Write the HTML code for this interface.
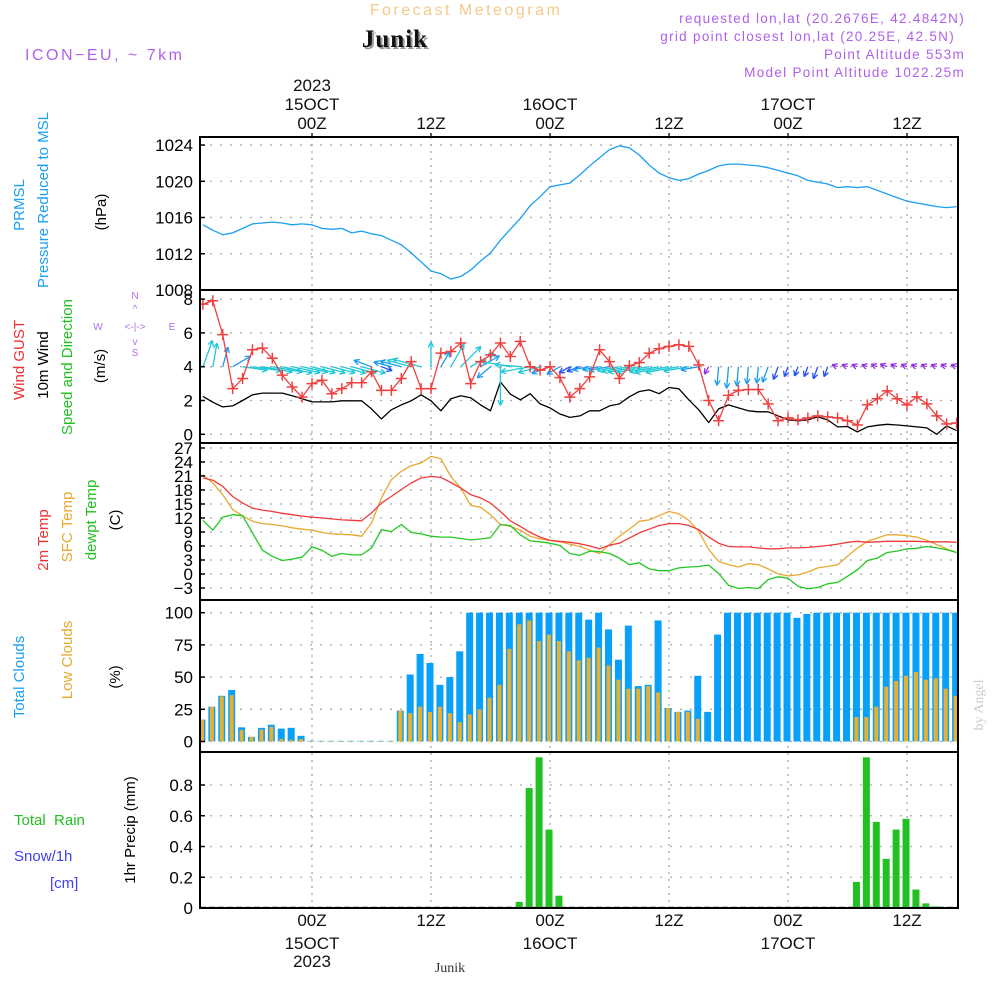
<!DOCTYPE html>
<html><head><meta charset="utf-8"><title>Meteogram Junik</title>
<style>
html,body{margin:0;padding:0;background:#fff;}
svg{display:block;font-family:"Liberation Sans",sans-serif;}
</style></head>
<body>
<svg id="chart" width="1000" height="1000" viewBox="0 0 1000 1000" xmlns="http://www.w3.org/2000/svg">
<rect x="0" y="0" width="1000" height="1000" fill="#fff"/>
<g id="grid"></g>
<g id="marks"></g>
<g id="frame"></g>
<g id="labels">
  <text x="466" y="15" font-size="16" fill="#f5c98a" text-anchor="middle" letter-spacing="2.5">Forecast Meteogram</text>
  <text x="397" y="49" font-size="25" font-weight="bold" font-family="Liberation Serif, serif" fill="#999" text-anchor="middle" letter-spacing="1">Junik</text>
  <text x="395" y="47" font-size="25" font-weight="bold" font-family="Liberation Serif, serif" fill="#111" text-anchor="middle" letter-spacing="1">Junik</text>
  <text x="25" y="60" font-size="16" fill="#b060e8" letter-spacing="2.5">ICON−EU, ~ 7km</text>
  <text x="965" y="23" font-size="13.5" fill="#b060e8" text-anchor="end" letter-spacing="1.3">requested lon,lat (20.2676E, 42.4842N)</text>
  <text x="955" y="41" font-size="13.5" fill="#b060e8" text-anchor="end" letter-spacing="1.3">grid point closest lon,lat (20.25E, 42.5N)</text>
  <text x="965" y="59" font-size="13.5" fill="#b060e8" text-anchor="end" letter-spacing="1.3">Point Altitude 553m</text>
  <text x="965" y="77" font-size="13.5" fill="#b060e8" text-anchor="end" letter-spacing="1.3">Model Point Altitude 1022.25m</text>
  <text x="450" y="972" font-size="14" font-family="Liberation Serif, serif" fill="#333" text-anchor="middle">Junik</text>
  <text transform="translate(983,705) rotate(-90)" font-size="14" font-family="Liberation Serif, serif" fill="#ccc" text-anchor="middle">by Angel</text>

  <text transform="translate(24,205) rotate(-90)" font-size="15" fill="#1aa0f0" text-anchor="middle">PRMSL</text>
  <text transform="translate(48,200) rotate(-90)" font-size="15" fill="#1aa0f0" text-anchor="middle">Pressure Reduced to MSL</text>
  <text transform="translate(106,212) rotate(-90)" font-size="15" fill="#000" text-anchor="middle">(hPa)</text>

  <text transform="translate(24,360) rotate(-90)" font-size="15" fill="#f03030" text-anchor="middle">Wind GUST</text>
  <text transform="translate(48,365) rotate(-90)" font-size="15" fill="#000" text-anchor="middle">10m Wind</text>
  <text transform="translate(72,367) rotate(-90)" font-size="15" fill="#20c020" text-anchor="middle">Speed and Direction</text>
  <text transform="translate(105,366) rotate(-90)" font-size="15" fill="#000" text-anchor="middle">(m/s)</text>
  <g fill="#b070f0" font-size="10">
    <text x="98" y="330" text-anchor="middle">W</text>
    <text x="135" y="330" text-anchor="middle">&lt;-|-&gt;</text>
    <text x="172" y="330" text-anchor="middle">E</text>
    <text x="135" y="299" text-anchor="middle">N</text>
    <text x="135" y="312" text-anchor="middle">^</text>
    <text x="135" y="345" text-anchor="middle">v</text>
    <text x="135" y="356" text-anchor="middle">S</text>
  </g>

  <text transform="translate(48,540) rotate(-90)" font-size="15" fill="#f03030" text-anchor="middle">2m Temp</text>
  <text transform="translate(72,527) rotate(-90)" font-size="15" fill="#e8a830" text-anchor="middle">SFC Temp</text>
  <text transform="translate(96,520) rotate(-90)" font-size="15" fill="#20c020" text-anchor="middle">dewpt Temp</text>
  <text transform="translate(120,520) rotate(-90)" font-size="15" fill="#000" text-anchor="middle">(C)</text>

  <text transform="translate(24,677) rotate(-90)" font-size="15" fill="#1aa0f0" text-anchor="middle">Total Clouds</text>
  <text transform="translate(72,660) rotate(-90)" font-size="15" fill="#e8a830" text-anchor="middle">Low Clouds</text>
  <text transform="translate(120,677) rotate(-90)" font-size="15" fill="#000" text-anchor="middle">(%)</text>

  <text x="14" y="825" font-size="15" fill="#20c020" xml:space="preserve">Total  Rain</text>
  <text x="14" y="861" font-size="15" fill="#4040f0">Snow/1h</text>
  <text x="50" y="888" font-size="15" fill="#4040f0">[cm]</text>
  <text transform="translate(135,830) rotate(-90)" font-size="15" fill="#000" text-anchor="middle">1hr Precip (mm)</text>
</g>
<g id="axes"></g>
</svg>
<script>
const hours = [-11,-10,-9,-8,-7,-6,-5,-4,-3,-2,-1,0,1,2,3,4,5,6,7,8,9,10,11,12,13,14,15,16,17,18,19,20,21,22,23,24,25,26,27,28,29,30,31,32,33,34,35,36,37,38,39,40,41,42,43,44,45,46,47,48,49,50,51,52,53,54,55,56,57,58,59,60,61,62,63,64,65];
const pressure = [1015.2,1014.6,1014.1,1014.3,1014.8,1015.3,1015.4,1015.5,1015.4,1015.2,1015.3,1015.2,1014.8,1014.7,1014.8,1014.3,1014.5,1014.2,1014.0,1013.5,1013.0,1012.1,1011.1,1010.1,1009.8,1009.2,1009.5,1010.2,1011.2,1012.1,1013.5,1014.7,1015.9,1017.3,1018.3,1019.4,1019.6,1019.8,1020.7,1021.7,1022.6,1023.5,1023.9,1023.7,1022.9,1021.8,1020.9,1020.4,1020.1,1020.3,1020.8,1021.2,1021.7,1021.9,1021.9,1021.8,1021.7,1021.5,1021.2,1020.9,1020.6,1020.1,1019.9,1019.7,1019.3,1019.4,1019.3,1019.4,1019.0,1018.6,1018.2,1017.8,1017.6,1017.4,1017.2,1017.1,1017.2];
const gust = [7.7,7.9,5.9,2.7,3.3,5.0,5.1,4.5,3.5,2.8,2.2,3.0,3.2,2.4,2.7,3.05,3.05,3.7,2.6,2.6,3.3,4.3,2.7,2.7,4.8,4.9,5.4,3.0,4.3,4.7,5.4,4.6,5.5,4.0,3.8,4.0,3.35,2.2,2.7,3.4,5.0,4.3,3.3,4.06,4.24,4.8,5.07,5.2,5.3,5.2,4.1,2.0,0.8,2.3,2.6,2.65,2.65,1.8,0.8,0.97,0.85,0.97,1.09,1.03,0.97,0.8,0.55,1.74,2.1,2.57,2.1,1.74,2.22,1.8,1.09,0.61,0.67];
const windSpeed = [2.24,1.9,1.62,1.68,2.0,2.34,2.44,2.44,2.44,2.28,2.1,1.92,1.92,1.92,1.98,1.98,1.98,1.5,0.91,1.45,1.74,1.98,2.34,1.98,1.39,2.1,2.28,2.16,1.74,1.39,3.1,2.38,2.04,2.4,1.8,1.56,1.2,1.0,1.09,1.39,1.39,1.68,1.8,2.22,2.53,2.63,2.4,2.77,2.69,2.04,1.45,0.69,1.5,1.74,1.56,1.39,1.33,1.33,1.09,0.85,0.79,0.85,1.03,0.85,0.44,0.46,0.14,0.44,0.53,0.59,0.55,0.5,0.44,0.38,0.0,0.5,0.22];
const windDir = [70,80,75,30,-8,-8,-10,-10,-12,-12,-12,-15,-15,-15,-15,-15,-15,160,-20,165,165,165,165,90,60,60,45,30,30,220,270,170,175,190,195,200,210,210,200,190,190,190,190,190,190,190,190,190,190,190,190,240,265,265,265,265,265,250,250,250,250,250,250,250,160,160,160,160,160,160,160,160,160,160,160,160,160];
const temp2m = [20.6,20.1,18.8,16.6,15.2,14.1,13.7,13.4,13.0,12.7,12.4,12.2,12.0,11.8,11.6,11.5,11.4,13.1,15.2,16.6,18.1,19.5,20.6,20.9,20.7,19.6,18.4,17.0,16.3,15.2,13.4,11.4,10.2,8.9,7.9,7.2,7.0,6.8,6.5,6.0,5.4,6.2,6.6,7.7,8.8,9.6,10.4,10.8,10.8,10.4,9.5,7.9,6.6,5.9,5.8,5.8,5.6,5.4,5.4,5.6,5.6,5.7,5.9,6.1,6.4,6.8,7.0,6.8,6.9,7.0,7.0,7.0,7.0,6.9,6.9,6.9,6.8];
const sfcTemp = [21.3,19.5,17.0,13.8,12.5,11.3,10.8,10.6,10.3,9.9,9.6,9.4,8.9,8.6,8.5,8.4,8.1,10.9,16.3,20.2,22.0,23.2,23.8,25.2,24.7,20.9,18.4,14.7,14.3,12.7,10.6,10.2,9.4,8.1,7.5,7.2,6.9,6.4,5.9,5.1,4.4,6.3,8.1,9.6,11.3,11.6,12.5,13.4,12.9,11.5,9.1,5.3,2.7,2.0,1.5,2.2,2.0,1.1,0.0,-0.4,-0.2,0.4,1.3,1.6,2.0,3.8,5.6,7.0,7.7,8.4,8.4,8.2,7.9,7.2,6.3,5.4,4.6];
const dewpt = [11.5,9.4,12.2,12.7,12.5,8.8,5.1,3.8,2.9,3.2,3.6,5.8,5.1,3.8,4.4,4.1,4.1,5.6,9.5,9.1,10.6,8.9,8.6,8.1,7.9,7.9,7.6,7.3,7.5,7.8,10.6,10.4,8.4,7.1,6.9,6.6,6.1,4.4,4.0,4.9,4.8,4.4,3.4,2.0,2.4,1.1,0.7,0.7,1.3,1.5,1.6,1.9,0.1,-2.4,-3.1,-2.9,-3.1,-1.2,-0.6,-0.9,-2.6,-3.2,-2.9,-2.1,-1.8,-0.5,0.9,2.9,3.4,4.6,4.9,5.4,5.5,5.9,5.6,5.2,4.6];
const totalCloud = [17,27,35.5,40,11,3.6,10.6,13,10,10.6,4.4,0.5,0.5,0.5,0.5,0.5,0.5,0.5,0.5,0.5,24,52,68,61,44,50,70,100,100,100,100,100,100,100,100,100,100,100,100,94.6,100,87,63.5,90,43,44,94,26,23,24,51,23,83,100,100,100,100,100,100,100,96,99,100,100,100,100,100,100,100,100,100,100,100,100,100,100,100];
const lowCloud = [17,27,35,36,9,3.6,9.3,11.4,2,1.3,2,0.3,0.3,0.3,0.3,0.3,0.3,0.3,0.3,0.3,24,22,27,23,27,22,15,21,25,34,44,72,91,94,78,83,78,70,63,65,73,59,48,41,41,43,38,26,23,23,17.6,0,0,0,0,0,0,0,0,0,0,0,0,0,0,0,19,19,27,42.5,47,51,54,48,49,41,35.5];
const precipHours = [21,22,23,24,25,55,56,57,58,59,60,61,62,63];
const precipVals = [0.04,0.78,0.98,0.51,0.08,0.17,0.98,0.56,0.32,0.51,0.58,0.12,0.03,0.01];
const pressureTicks = [1008,1012,1016,1020,1024];
const windTicks = [0,2,4,6,8];
const tempTicks = [-3,0,3,6,9,12,15,18,21,24,27];
const cloudTicks = [0,25,50,75,100];
const precipTicks = [0,0.2,0.4,0.6,0.8];
const timeTicks = [0,12,24,36,48,60];
const timeLabels = ["00Z","12Z","00Z","12Z","00Z","12Z"];
const dayLabels = ["15OCT","","16OCT","","17OCT",""];

const NS="http://www.w3.org/2000/svg";
const X0=200,X1=958;
const xT = t => 312 + t*9.917;
const yP = p => 290 - (p-1008)*9.06;
const yW = v => 434.3 - v*16.9;
const yT = v => 588 - (v+3)*4.667;
const yC = v => 741.5 - v*1.288;
const yR = v => 908 - v*153.75;
const panels=[[137,290],[290,443],[443,600],[600,752],[752,908]];

function mk(tag, attrs, parent){
  const e=document.createElementNS(NS,tag);
  for(const k in attrs) e.setAttribute(k,attrs[k]);
  parent.appendChild(e); return e;
}
const grid=document.getElementById('grid'), marks=document.getElementById('marks'),
      frame=document.getElementById('frame'), axes=document.getElementById('axes');

timeTicks.forEach(t=>{
  const l=mk('line',{x1:xT(t),x2:xT(t),y1:137,y2:908,stroke:'#aaa','stroke-width':1.3,'stroke-dasharray':'2,5'},grid);
  
  
});
function hgrid(ticks, fy, fmt){
  ticks.forEach(v=>{
    const y=fy(v);
    const l=mk('line',{x1:X0,x2:X1,y1:y,y2:y,stroke:'#aaa','stroke-width':1.3,'stroke-dasharray':'2,8'},grid);
    
    
    const tk=mk('line',{x1:X0,x2:X0+5,y1:y,y2:y,stroke:'#000','stroke-width':1.5},axes);
    
    
    const tx=mk('text',{x:193,y:y+6,'font-size':17,'text-anchor':'end',fill:'#000'},axes);
    tx.textContent=fmt(v);
    
    
  });
}
hgrid(pressureTicks,yP,v=>String(v));
hgrid(windTicks,yW,v=>String(v));
hgrid(tempTicks,yT,v=>v<0?'−'+(-v):String(v));
hgrid(cloudTicks,yC,v=>String(v));
hgrid(precipTicks,yR,v=>v===0?'0':String(v));

const defs=mk('defs',{},marks);
const cp=mk('clipPath',{id:'plotclip'},defs);
mk('rect',{x:X0,y:137,width:X1-X0,height:771},cp);
const g=mk('g',{'clip-path':'url(#plotclip)'},marks);

function line(arr, fy, color, name, w){
  const pts=arr.map((v,i)=>xT(hours[i]).toFixed(1)+','+fy(v).toFixed(1)).join(' ');
  const p=mk('polyline',{points:pts,fill:'none',stroke:color,'stroke-width':w||1.3,'stroke-linejoin':'round'},g);
  
  
}
line(pressure,yP,'#1aa0f0','pressure-line');
hours.forEach((t,i)=>{
  const x=xT(t)-1;
  const b=mk('rect',{x:x-3.5,y:yC(totalCloud[i]),width:7,height:yC(0)-yC(totalCloud[i]),fill:'#08a0f8'},g);
  
  
  const o=mk('rect',{x:x-2,y:yC(lowCloud[i]),width:4,height:yC(0)-yC(lowCloud[i]),fill:'#e8b030'},g);
  
  
});
mk('line',{x1:X0,x2:X1,y1:yR(0)-0.5,y2:yR(0)-0.5,stroke:'#333','stroke-width':1.5,'stroke-dasharray':'6,3'},g);
precipHours.forEach((t,i)=>{
  const x=xT(t)-1;
  const b=mk('rect',{x:x-3.5,y:yR(precipVals[i]),width:7,height:yR(0)-yR(precipVals[i]),fill:'#22c022'},g);
  
  
});
line(sfcTemp,yT,'#e8a830','sfc-temp-line');
line(temp2m,yT,'#f03a3a','temp2m-line');
line(dewpt,yT,'#22c822','dewpt-line');
line(windSpeed,yW,'#000','wind-speed-line');
hours.forEach((t,i)=>{
  const s=windSpeed[i], a=windDir[i]*Math.PI/180;
  const L=Math.max(6,s*12.5);
  const x0=xT(t), y0=yW(4);
  const x1=x0+L*Math.cos(a), y1=y0-L*Math.sin(a);
  const col = s<0.7?'#9030e0':(s<1.2?'#2050f0':(s<1.8?'#1a9cf0':'#20c8d8'));
  const ar=mk('g',{stroke:col,'stroke-width':1.3,fill:'none'},g);
  
  
  mk('line',{x1:x0,y1:y0,x2:x1,y2:y1},ar);
  const h=6;
  [a+Math.PI*0.85,a-Math.PI*0.85].forEach(b=>{
    mk('line',{x1:x1,y1:y1,x2:x1+h*Math.cos(b),y2:y1-h*Math.sin(b)},ar);
  });
});
line(gust,yW,'#f04040','gust-line');
hours.forEach((t,i)=>{
  const x=xT(t), y=yW(gust[i]);
  const p=mk('path',{d:`M${x-5.5},${y}H${x+5.5}M${x},${y-5.5}V${y+5.5}`,stroke:'#f04040','stroke-width':1.5},g);
  
  
});

panels.forEach(([a,b])=>{
  const r=mk('rect',{x:X0,y:a,width:X1-X0,height:b-a,fill:'none',stroke:'#000','stroke-width':2},frame);
  
  
});
timeTicks.forEach((t,i)=>{
  const x=xT(t);
  mk('line',{x1:x,x2:x,y1:133,y2:137,stroke:'#000','stroke-width':1.3},axes);
  const a=mk('text',{x:x,y:129,'font-size':17,'text-anchor':'middle',fill:'#111'},axes);
  a.textContent=timeLabels[i];
  
  
  const b=mk('text',{x:x,y:926,'font-size':17,'text-anchor':'middle',fill:'#111'},axes);
  b.textContent=timeLabels[i];
  
  
  if(dayLabels[i]){
    const c=mk('text',{x:x,y:110,'font-size':17,'text-anchor':'middle',fill:'#111'},axes);
    c.textContent=dayLabels[i];
    
    
    const d=mk('text',{x:x,y:949,'font-size':17,'text-anchor':'middle',fill:'#111'},axes);
    d.textContent=dayLabels[i];
    
    
  }
});
const y1=mk('text',{x:xT(0),y:91,'font-size':17,'text-anchor':'middle',fill:'#111'},axes);
y1.textContent='2023';


const y2=mk('text',{x:xT(0),y:967,'font-size':17,'text-anchor':'middle',fill:'#111'},axes);
y2.textContent='2023';


</script>
</body></html>
